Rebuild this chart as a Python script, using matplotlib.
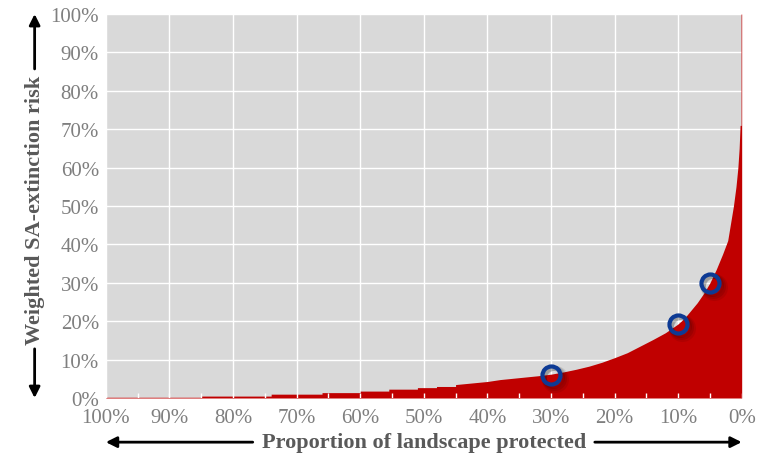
import matplotlib.pyplot as plt
import matplotlib.transforms as mtransforms
import numpy as np

plt.rcParams['font.family'] = ['Liberation Serif', 'DejaVu Serif']

# Proportion of landscape protected (%) and weighted SA-extinction risk (%)
# (coarse steps on the left, finer bars towards the right)
protected = [100, 85, 85, 74, 74, 66, 66, 60, 60, 55.5, 55.5, 51, 51, 48, 48, 45,
             45, 40, 38, 35, 32, 30, 28, 26, 24, 22, 20, 18, 16, 14, 12, 10, 9, 8,
             7, 6, 5, 4, 3, 2.2, 1.8, 1.3, 0.9, 0.6, 0.4, 0.25, 0.25, 0.1, 0.1, 0]
risk = [0.2, 0.2, 0.5, 0.5, 1.0, 1.0, 1.4, 1.4, 1.8, 1.8, 2.3, 2.3, 2.7, 2.7, 3.0,
        3.0, 3.5, 4.3, 4.8, 5.3, 5.8, 6.2, 6.8, 7.5, 8.3, 9.3, 10.5, 11.8, 13.5,
        15.2, 17.0, 19.3, 20.8, 22.8, 24.8, 27.2, 30.0, 33.5, 37.5, 41.0, 45.0,
        50.0, 55.0, 60.0, 65.0, 71.0, 71.0, 71.0, 100.0, 100.0]

# highlighted targets
mark_x = [30, 10, 5]
mark_y = [6.0, 19.3, 30.0]

ticks = np.arange(0, 101, 10)
minor = np.arange(0, 101, 5)
tick_labels = ['%d%%' % t for t in ticks]

fig = plt.figure(figsize=(7.67, 4.56), dpi=100)
ax = fig.add_axes([0.138, 0.125, 0.829, 0.842])
ax.set_facecolor('#D9D9D9')

# gridlines under the filled area
for t in ticks:
    ax.axhline(t, color='white', lw=1, zorder=0.5)
    ax.axvline(t, color='white', lw=1, zorder=0.5)

ax.fill_between(protected, risk, 0, color='#C00000', lw=0, zorder=1)

# small white ticks along the base
ax.vlines(minor, 0, 0.012, transform=ax.get_xaxis_transform(), color='white',
          lw=1, zorder=2)

# circles with soft shadow
for i, a in enumerate([0.12, 0.10, 0.08]):
    off = mtransforms.ScaledTranslation((2 + i) / 100, -(2 + i) / 100, fig.dpi_scale_trans)
    ax.plot(mark_x, mark_y, 'o', ms=13 + i * 1.5, mfc='none', mec='black', mew=3.5,
            alpha=a, transform=ax.transData + off, zorder=3)
ax.plot(mark_x, mark_y, 'o', ms=13, mfc='none', mec='#0D3A94', mew=3, zorder=4)

ax.set_xlim(100, 0)
ax.set_ylim(0, 100)
ax.set_xticks(ticks)
ax.set_xticklabels(tick_labels)
ax.set_yticks(ticks)
ax.set_yticklabels(tick_labels)
ax.tick_params(length=0, labelsize=15, labelcolor='#7F7F7F')
ax.tick_params(axis='y', pad=5)
ax.tick_params(axis='x', pad=7)
for s in ax.spines.values():
    s.set_visible(False)

ax.text(0.5, -0.115, 'Proportion of landscape protected', transform=ax.transAxes,
        ha='center', va='center', fontsize=16, fontweight='bold', color='#595959')
ax.text(-0.112, 0.49, 'Weighted SA-extinction risk', transform=ax.transAxes,
        ha='center', va='center', rotation=90, fontsize=16, fontweight='bold',
        color='#595959')

arrow = dict(arrowstyle='-|>', color='black', lw=2, mutation_scale=16,
             shrinkA=0, shrinkB=0)
ax.annotate('', xy=(0.0, -0.115), xytext=(0.231, -0.115), xycoords='axes fraction',
            arrowprops=arrow, annotation_clip=False)
ax.annotate('', xy=(1.0, -0.115), xytext=(0.769, -0.115), xycoords='axes fraction',
            arrowprops=arrow, annotation_clip=False)
ax.annotate('', xy=(-0.112, 1.0), xytext=(-0.112, 0.857), xycoords='axes fraction',
            arrowprops=arrow, annotation_clip=False)
ax.annotate('', xy=(-0.112, 0.0), xytext=(-0.112, 0.128), xycoords='axes fraction',
            arrowprops=arrow, annotation_clip=False)

plt.savefig('out.png', dpi=100)
